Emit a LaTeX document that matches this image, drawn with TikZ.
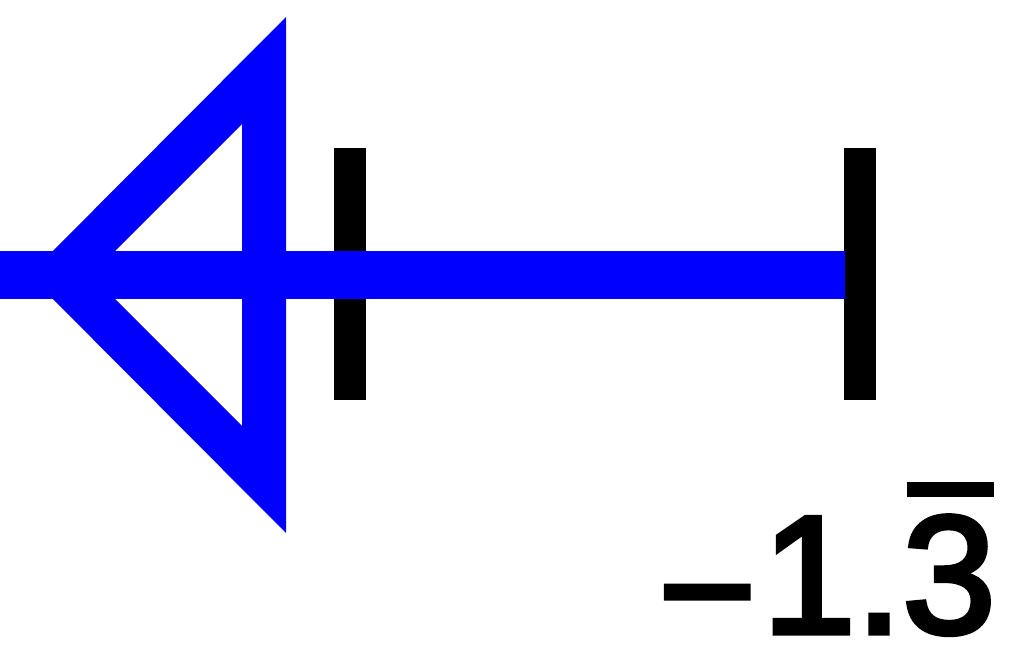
\documentclass[tikz,border=0pt]{standalone}
\usepackage{fontspec}
\setmainfont{Liberation Sans}
\newfontface\labelface{Liberation Sans}[FakeBold=3]
\begin{document}
\begin{tikzpicture}[x=1pt,y=-1pt,
  axisline/.style={draw=blue,line width=48pt},
  tickmark/.style={draw=black,line width=32pt},
  arrowhead/.style={fill=blue,even odd rule},
  valuelabel/.style={font=\fontsize{168}{168}\selectfont\labelface,inner sep=0pt,anchor=base east}]
\useasboundingbox (0,0) rectangle (1013,650);
\coordinate (left) at (0,275);
\coordinate (right) at (845,275);
\coordinate (t1top) at (350,148);
\coordinate (t1bot) at (350,400);
\coordinate (t2top) at (860,148);
\coordinate (t2bot) at (860,400);
\draw[tickmark] (t1top) -- (t1bot);
\draw[tickmark] (t2top) -- (t2bot);
\draw[axisline] (left) -- (right);
\fill[arrowhead] (29,275) -- (286,17) -- (286,533) -- cycle
  (91,275) -- (242,124) -- (242,426) -- cycle;
\fill[blue] (91,251) rectangle (242,299);
\node[valuelabel] (val) at (996,633) {\raisebox{-15pt}{−}\hspace{6pt}1.3};
\fill[black] (907,482) rectangle (994,497);
\end{tikzpicture}
\end{document}
